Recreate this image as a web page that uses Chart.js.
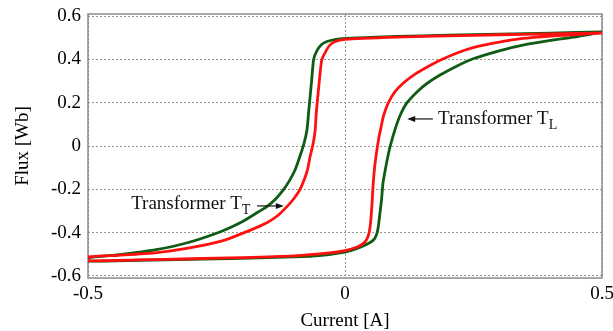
<!DOCTYPE html>
<html>
<head>
<meta charset="utf-8">
<script src="https://cdn.jsdelivr.net/npm/chart.js@4.4.0/dist/chart.umd.min.js"></script>
<style>
  html, body { margin: 0; padding: 0; background: #fff; }
  #wrap { width: 613px; height: 331px; }
</style>
</head>
<body>
<div id="wrap"><canvas id="loop"></canvas></div>
<script>
/* ── Data: [current A, flux Wb] ── */
const currentTicks = [-0.5, 0, 0.5];
const fluxTicks = [-0.6, -0.4, -0.2, 0, 0.2, 0.4, 0.6];

// Transformer T_L (green, wider loop)
const greenDown = [
  [0.5, 0.527], [0.4, 0.522], [0.3, 0.517], [0.2, 0.512], [0.1, 0.506], [0.0, 0.497],
  [-0.02, 0.492], [-0.035, 0.483], [-0.045, 0.47], [-0.054, 0.443], [-0.061, 0.40],
  [-0.065, 0.30], [-0.068, 0.226], [-0.071, 0.15], [-0.074, 0.074], [-0.08, 0.01],
  [-0.088, -0.05], [-0.097, -0.11], [-0.108, -0.16], [-0.12, -0.203], [-0.135, -0.245],
  [-0.152, -0.28], [-0.169, -0.305], [-0.2, -0.35], [-0.241, -0.395], [-0.305, -0.446],
  [-0.37, -0.48], [-0.44, -0.502], [-0.5, -0.517]
];
const greenUp = [
  [-0.5, -0.532], [-0.4, -0.528], [-0.3, -0.524], [-0.2, -0.519], [-0.1, -0.512],
  [-0.05, -0.506], [0.0, -0.49], [0.02, -0.477], [0.035, -0.462], [0.048, -0.447],
  [0.057, -0.43], [0.062, -0.405], [0.065, -0.37], [0.068, -0.31], [0.071, -0.25],
  [0.074, -0.17], [0.082, -0.065], [0.087, -0.01], [0.097, 0.074], [0.107, 0.14],
  [0.12, 0.198], [0.14, 0.25], [0.16, 0.29], [0.185, 0.328], [0.218, 0.37],
  [0.249, 0.403], [0.3, 0.44], [0.346, 0.466], [0.4, 0.488], [0.444, 0.503], [0.5, 0.527]
];

// Transformer T_T (red, narrower loop)
const redDown = [
  [0.5, 0.522], [0.4, 0.518], [0.3, 0.514], [0.2, 0.509], [0.1, 0.503], [0.0, 0.493],
  [-0.02, 0.482], [-0.03, 0.465], [-0.036, 0.443], [-0.045, 0.40], [-0.05, 0.30],
  [-0.053, 0.226], [-0.056, 0.15], [-0.058, 0.074], [-0.062, 0.01], [-0.068, -0.05],
  [-0.073, -0.11], [-0.08, -0.16], [-0.088, -0.203], [-0.1, -0.245], [-0.113, -0.28],
  [-0.13, -0.32], [-0.152, -0.355], [-0.185, -0.39], [-0.241, -0.44], [-0.305, -0.472],
  [-0.37, -0.494], [-0.44, -0.505], [-0.5, -0.513]
];
const redUp = [
  [-0.5, -0.53], [-0.4, -0.526], [-0.3, -0.521], [-0.2, -0.516], [-0.1, -0.508],
  [-0.03, -0.494], [0.0, -0.483], [0.02, -0.47], [0.033, -0.455], [0.041, -0.437],
  [0.046, -0.41], [0.049, -0.37], [0.051, -0.32], [0.053, -0.25], [0.055, -0.17],
  [0.058, -0.09], [0.062, -0.02], [0.066, 0.04], [0.069, 0.074], [0.075, 0.14],
  [0.084, 0.198], [0.097, 0.25], [0.113, 0.29], [0.135, 0.33], [0.16, 0.365],
  [0.185, 0.396], [0.218, 0.43], [0.249, 0.455], [0.3, 0.48], [0.346, 0.497],
  [0.4, 0.508], [0.444, 0.514], [0.5, 0.522]
];

const SERIF = '"Liberation Serif", "Times New Roman", serif';
const toPts = arr => arr.map(p => ({ x: p[0], y: p[1] }));

/* ── Labels with arrows (data coordinates) ── */
const notes = [
  { text: 'Transformer T', sub: 'L', x: 0.181, y: 0.102, arrow: [0.171, 0.125, 0.121, 0.125] },
  { text: 'Transformer T', sub: 'T', x: -0.416, y: -0.291, arrow: [-0.171, -0.277, -0.119, -0.277] }
];

const framePlugin = {
  id: 'frame',
  beforeDatasetsDraw(chart) {
    const a = chart.chartArea, ctx = chart.ctx;
    ctx.save();
    ctx.strokeStyle = '#8a8a8a';
    ctx.lineWidth = 1.5;
    ctx.strokeRect(a.left, a.top, a.right - a.left, a.bottom - a.top);
    ctx.restore();
  }
};

const notesPlugin = {
  id: 'notes',
  afterDraw(chart) {
    const ctx = chart.ctx, xs = chart.scales.x, ys = chart.scales.y;
    ctx.save();
    ctx.fillStyle = '#111';
    ctx.strokeStyle = '#111';
    notes.forEach(n => {
      const px = xs.getPixelForValue(n.x), py = ys.getPixelForValue(n.y);
      ctx.font = '19px ' + SERIF;
      ctx.textBaseline = 'alphabetic';
      ctx.textAlign = 'left';
      ctx.fillText(n.text, px, py);
      const w = ctx.measureText(n.text).width;
      ctx.font = '14px ' + SERIF;
      ctx.fillText(n.sub, px + w, py + 5);

      const x1 = xs.getPixelForValue(n.arrow[0]), y1 = ys.getPixelForValue(n.arrow[1]);
      const x2 = xs.getPixelForValue(n.arrow[2]), y2 = ys.getPixelForValue(n.arrow[3]);
      const dir = Math.sign(x2 - x1);
      ctx.lineWidth = 1.2;
      ctx.beginPath();
      ctx.moveTo(x1, y1);
      ctx.lineTo(x2 - dir * 4, y2);
      ctx.stroke();
      ctx.beginPath();
      ctx.moveTo(x2, y2);
      ctx.lineTo(x2 - dir * 8, y2 - 3);
      ctx.lineTo(x2 - dir * 8, y2 + 3);
      ctx.closePath();
      ctx.fill();
    });
    ctx.restore();
  }
};

const fmt = v => (v === 0 ? '0' : v.toFixed(1));

new Chart(document.getElementById('loop'), {
  type: 'scatter',
  data: {
    datasets: [
      {
        label: 'Transformer T_T',
        data: toPts(redDown.concat(redUp)),
        borderColor: '#ff1010',
        borderWidth: 2.8,
        showLine: true,
        pointRadius: 0,
        tension: 0.2,
        order: 0
      },
      {
        label: 'Transformer T_L',
        data: toPts(greenDown.concat(greenUp)),
        borderColor: '#0f5c14',
        borderWidth: 2.8,
        showLine: true,
        pointRadius: 0,
        tension: 0.2,
        order: 1
      }
    ]
  },
  options: {
    responsive: true,
    maintainAspectRatio: false,
    animation: false,
    layout: { padding: { top: 14, right: 11, left: 0, bottom: 0 } },
    plugins: { legend: { display: false }, tooltip: { enabled: false } },
    scales: {
      x: {
        type: 'linear',
        min: -0.5,
        max: 0.5,
        afterBuildTicks: s => { s.ticks = currentTicks.map(v => ({ value: v })); },
        afterFit: s => { s.height = 53; s.paddingLeft = 0; s.paddingRight = 0; },
        grid: { color: '#949494', lineWidth: 1, drawTicks: false },
        border: { display: false, dash: [2, 2] },
        ticks: { padding: 5, color: '#000', maxRotation: 0, font: { family: SERIF, size: 19 }, callback: fmt },
        title: {
          display: true, text: 'Current [A]', color: '#000',
          font: { family: SERIF, size: 19, lineHeight: 1 }, padding: { top: 0, bottom: 0 }
        }
      },
      y: {
        type: 'linear',
        min: -0.61,
        max: 0.61,
        afterBuildTicks: s => { s.ticks = fluxTicks.map(v => ({ value: v })); },
        afterFit: s => { s.width = 88; s.paddingTop = 0; s.paddingBottom = 0; },
        grid: { color: '#949494', lineWidth: 1, drawTicks: false },
        border: { display: false, dash: [2, 2] },
        ticks: { padding: 7, color: '#000', font: { family: SERIF, size: 19 }, callback: fmt },
        title: {
          display: true, text: 'Flux [Wb]', color: '#000',
          font: { family: SERIF, size: 19, lineHeight: 1 }, padding: { top: 14, bottom: 0 }
        }
      }
    }
  },
  plugins: [framePlugin, notesPlugin]
});
</script>
</body>
</html>
